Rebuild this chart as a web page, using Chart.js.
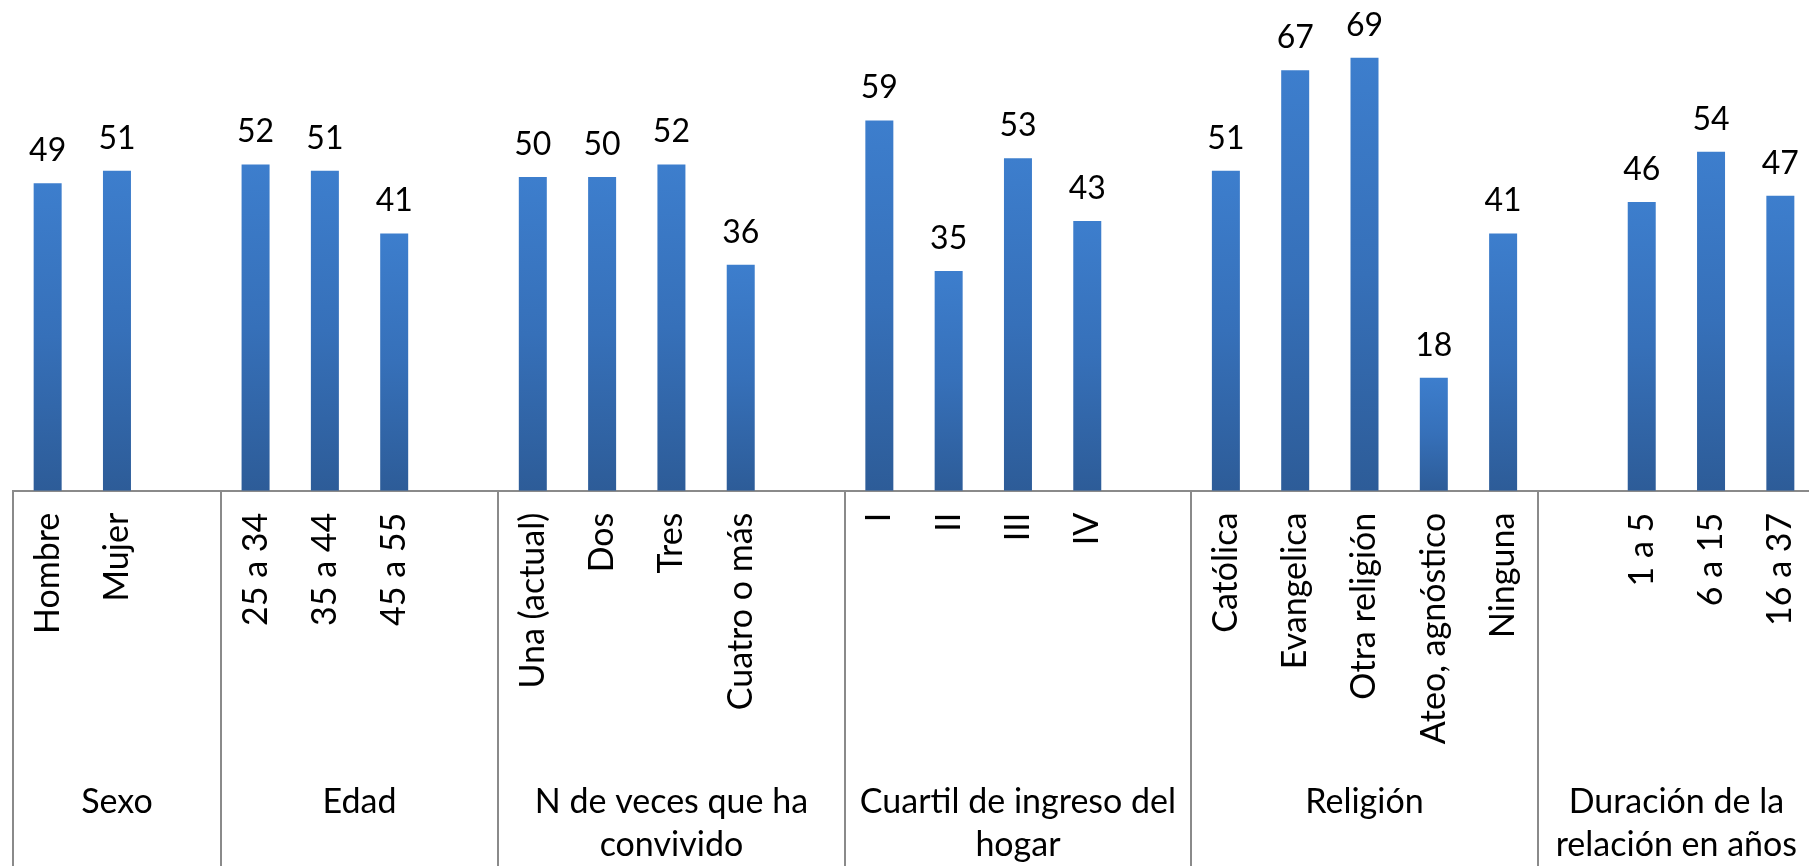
<!DOCTYPE html>
<html lang="es">
<head>
<meta charset="utf-8">
<title>Convivencia por características</title>
<script src="https://cdn.jsdelivr.net/npm/chart.js@4/dist/chart.umd.min.js"></script>
<style>
  html, body { margin: 0; padding: 0; background: #fff; }
  .wrap { width: 1809px; height: 866px; overflow: hidden; position: relative; }
  canvas { display: block; }
</style>
</head>
<body>
<div class="wrap">
  <canvas id="chart" width="1816" height="866"></canvas>
</div>
<script>
// categorías (las vacías separan los grupos, como en el original)
const categories = [
  'Hombre', 'Mujer', '',
  '25 a 34', '35 a 44', '45 a 55', '',
  'Una (actual)', 'Dos', 'Tres', 'Cuatro o más', '',
  'I', 'II', 'III', 'IV', '',
  'Católica', 'Evangelica', 'Otra religión', 'Ateo, agnóstico', 'Ninguna',
  '', '1 a 5', '6 a 15', '16 a 37'
];

const values = [
  49, 51, null,
  52, 51, 41, null,
  50, 50, 52, 36, null,
  59, 35, 53, 43, null,
  51, 67, 69, 18, 41,
  null, 46, 54, 47
];

// grupos del eje (índice de la primera categoría de cada uno)
const groupNames = [
  ['Sexo'],
  ['Edad'],
  ['N de veces que ha', 'convivido'],
  ['Cuartil de ingreso del', 'hogar'],
  ['Religión'],
  ['Duración de la', 'relación en años']
];
const groupStarts = [0, 3, 7, 12, 17, 22];

const FONT = 'Lato, "Open Sans", sans-serif';

function barGradient(context) {
  const chart = context.chart;
  const yScale = chart.scales.y;
  const v = context.raw;
  if (!yScale || v == null) return '#3670b8';
  const top = yScale.getPixelForValue(v);
  const bottom = yScale.getPixelForValue(0);
  if (!isFinite(top) || !isFinite(bottom) || top === bottom) return '#3670b8';
  const g = chart.ctx.createLinearGradient(0, top, 0, bottom);
  g.addColorStop(0, '#3d7ecd');
  g.addColorStop(0.5, '#3670b9');
  g.addColorStop(1, '#2d5c98');
  return g;
}

const valueLabels = {
  id: 'valueLabels',
  afterDatasetsDraw(chart) {
    const { ctx } = chart;
    const meta = chart.getDatasetMeta(0);
    ctx.save();
    ctx.font = '32px ' + FONT;
    ctx.fillStyle = '#000';
    ctx.textAlign = 'center';
    ctx.textBaseline = 'alphabetic';
    meta.data.forEach((bar, i) => {
      if (values[i] == null) return;
      ctx.fillText(String(values[i]), bar.x, bar.y - 22);
    });
    ctx.restore();
  }
};

const groupAxis = {
  id: 'groupAxis',
  afterDraw(chart) {
    const { ctx, chartArea } = chart;
    const x = chart.scales.x;
    const slot = x.getPixelForValue(1) - x.getPixelForValue(0);
    const edge = (i) => x.getPixelForValue(i) - slot / 2;
    const bottom = chartArea.bottom;
    ctx.save();
    ctx.strokeStyle = '#8a8a8a';
    ctx.lineWidth = 2;
    groupStarts.forEach((start) => {
      const px = Math.round(edge(start));
      ctx.beginPath();
      ctx.moveTo(px, bottom);
      ctx.lineTo(px, chart.height);
      ctx.stroke();
    });
    ctx.font = '34px ' + FONT;
    ctx.fillStyle = '#000';
    ctx.textAlign = 'center';
    ctx.textBaseline = 'alphabetic';
    groupNames.forEach((lines, g) => {
      const from = edge(groupStarts[g]);
      const to = edge(g + 1 < groupStarts.length ? groupStarts[g + 1] : categories.length);
      const cx = (from + to) / 2;
      lines.forEach((line, k) => {
        ctx.fillText(line, cx, bottom + 322 + k * 43.5);
      });
    });
    ctx.restore();
  }
};

const chart = new Chart(document.getElementById('chart'), {
  type: 'bar',
  data: {
    labels: categories,
    datasets: [{
      data: values,
      backgroundColor: barGradient,
      borderWidth: 0,
      categoryPercentage: 1,
      barPercentage: 0.404
    }]
  },
  options: {
    responsive: false,
    animation: false,
    events: [],
    layout: { padding: { left: 13, right: 1, top: 0, bottom: 0 } },
    plugins: {
      legend: { display: false },
      tooltip: { enabled: false }
    },
    scales: {
      x: {
        grid: { display: false, drawTicks: false },
        border: { display: true, color: '#8a8a8a', width: 2 },
        ticks: {
          autoSkip: false,
          minRotation: 90,
          maxRotation: 90,
          padding: 22,
          color: '#000',
          font: { family: FONT, size: 34 }
        },
        afterFit(scale) {
          scale.height = 375.3;
          scale.paddingLeft = 0;
          scale.paddingRight = 0;
        }
      },
      y: {
        display: false,
        min: 0,
        max: 78.2
      }
    }
  },
  plugins: [valueLabels, groupAxis]
});
</script>
</body>
</html>
